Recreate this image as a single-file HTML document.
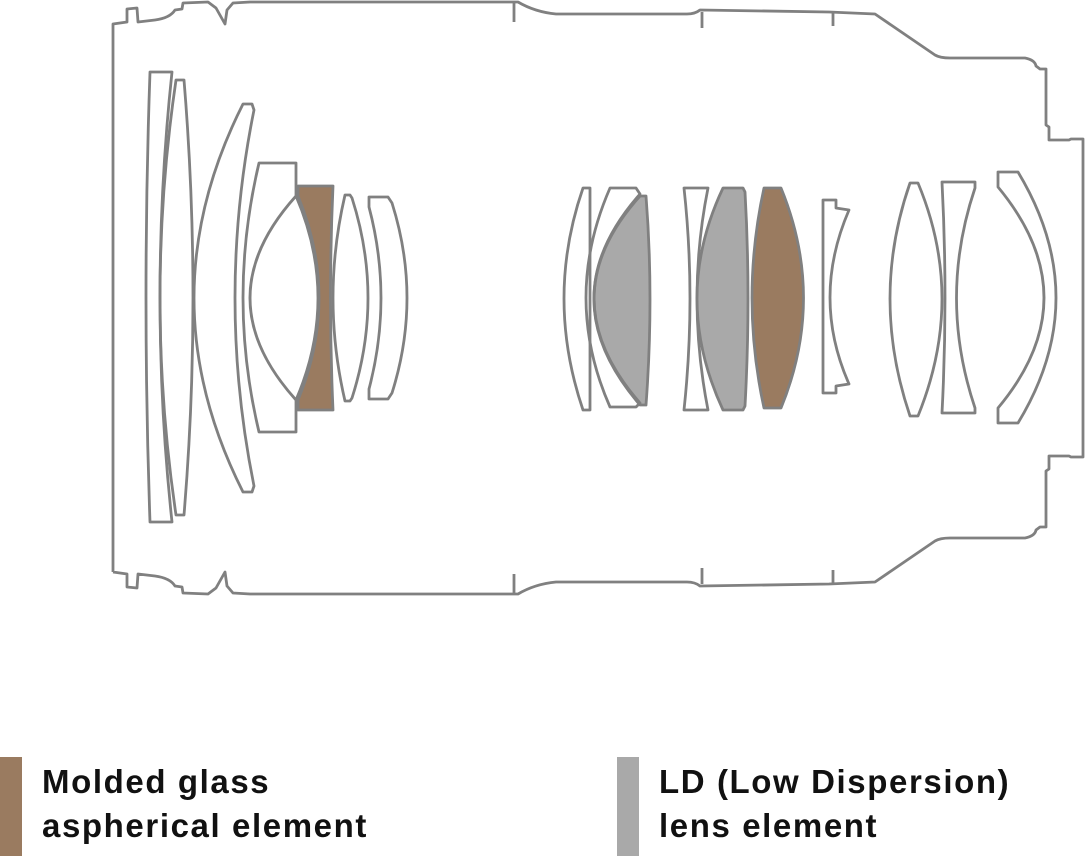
<!DOCTYPE html>
<html><head><meta charset="utf-8"><style>
html,body{margin:0;padding:0;background:#fff;}
body{width:1086px;height:856px;position:relative;overflow:hidden;font-family:"Liberation Sans",sans-serif;}
.t{position:absolute;font-size:33px;font-weight:bold;letter-spacing:1.6px;color:#111;line-height:44px;white-space:nowrap;}
</style></head><body>
<svg width="1086" height="740" style="position:absolute;left:0;top:0" fill="none" stroke="#808080" stroke-width="2.8" stroke-linejoin="round">
<path d="M113,572 L113,24 L127,22 L127,9 L137,8 L138,22 L155,20 Q170,18 175,10 L182,9 L183,3 L208,2 L216,8 L225,24 L227,10 L233,3 L250,2 L518,2 Q535,12 556,14 L687,14 Q695,14 700,10 L829,12 L875,14 L935,55 Q940,58 950,58 L1025,58 Q1035,60 1036,66 L1040,69 L1046,69 L1046,125 L1049,127 L1049,140 L1069,140 L1071,139 L1083,139 L1083,457 L1071,457 L1069,456 L1049,456 L1049,469 L1046,471 L1046,527 L1040,527 L1036,530 Q1035,536 1025,538 L950,538 Q940,538 935,541 L875,582 L829,584 L700,586 Q695,582 687,582 L556,582 Q535,584 518,594 L250,594 L233,593 L227,586 L225,572 L216,588 L208,594 L183,593 L182,587 L175,586 Q170,578 155,576 L138,574 L137,588 L127,587 L127,574 L113,572"/>
<path d="M514,2 L514,22 M514,594 L514,574 M702,12 L702,28 M702,584 L702,568 M833,12 L833,26 M833,584 L833,570"/>
<path d="M150,72 L172,72 Q148,298 172,522 L150,522 Q142,298 150,72Z"/>
<path d="M176,80 L184,80 Q202,298 184,515 L176,515 Q144,298 176,80Z"/>
<path d="M243,104 L252,104 L254,110 Q216,298 254,486 L252,492 L243,492 Q145,298 243,104Z"/>
<path d="M298,186 L333,186 Q328,298 333,410 L298,410 L298,400 Q340,298 298,196Z" fill="#9a7b60"/>
<path d="M259,163 L296,163 L296,196 Q204,298 296,400 L296,432 L259,432 Q227,298 259,163Z"/>
<path d="M296,196 Q340,298 296,400"/>
<path d="M345,195 L350,195 L352,198 Q384,298 352,398 L350,401 L345,401 Q321,298 345,195Z"/>
<path d="M369,197 L388,197 L392,203 Q422,298 392,393 L388,399 L369,399 L369,389 Q393,298 369,207Z"/>
<path d="M583,188 L590,188 L590,410 L583,410 Q545,298 583,188Z"/>
<path d="M640,196 L646,196 Q654,298 646,405 L640,405 Q548,298 640,196Z" fill="#a9a9a9"/>
<path d="M610,188 L636,188 L640,194 Q548,298 640,403 L636,407 L610,407 Q562,298 610,188Z"/>
<path d="M684,188 L708,188 Q686,298 708,410 L684,410 Q696,298 684,188Z"/>
<path d="M723,188 L743,188 L745,192 Q751,298 745,406 L743,410 L723,410 Q671,298 723,188Z" fill="#a9a9a9"/>
<path d="M764,188 L781,188 Q826,298 781,408 L764,408 Q740,298 764,188Z" fill="#9a7b60"/>
<path d="M823,200 L836,200 L836,208 L849,210 Q811,298 849,384 L836,386 L836,393 L823,393Z"/>
<path d="M910,183 L918,183 Q966,298 918,416 L910,416 Q870,298 910,183Z"/>
<path d="M942,182 L975,182 L975,188 Q938,298 975,408 L975,413 L942,413 Q948,298 942,182Z"/>
<path d="M998,172 L1018,172 Q1094,298 1018,423 L998,423 L998,408 Q1090,298 998,187Z"/>
</svg>
<div style="position:absolute;left:0;top:757px;width:22px;height:99px;background:#9a7b60"></div>
<div style="position:absolute;left:617px;top:757px;width:22px;height:99px;background:#a9a9a9"></div>
<div class="t" style="left:42px;top:760px">Molded glass<br>aspherical element</div>
<div class="t" style="left:659px;top:760px">LD (Low Dispersion)<br>lens element</div>
</body></html>
